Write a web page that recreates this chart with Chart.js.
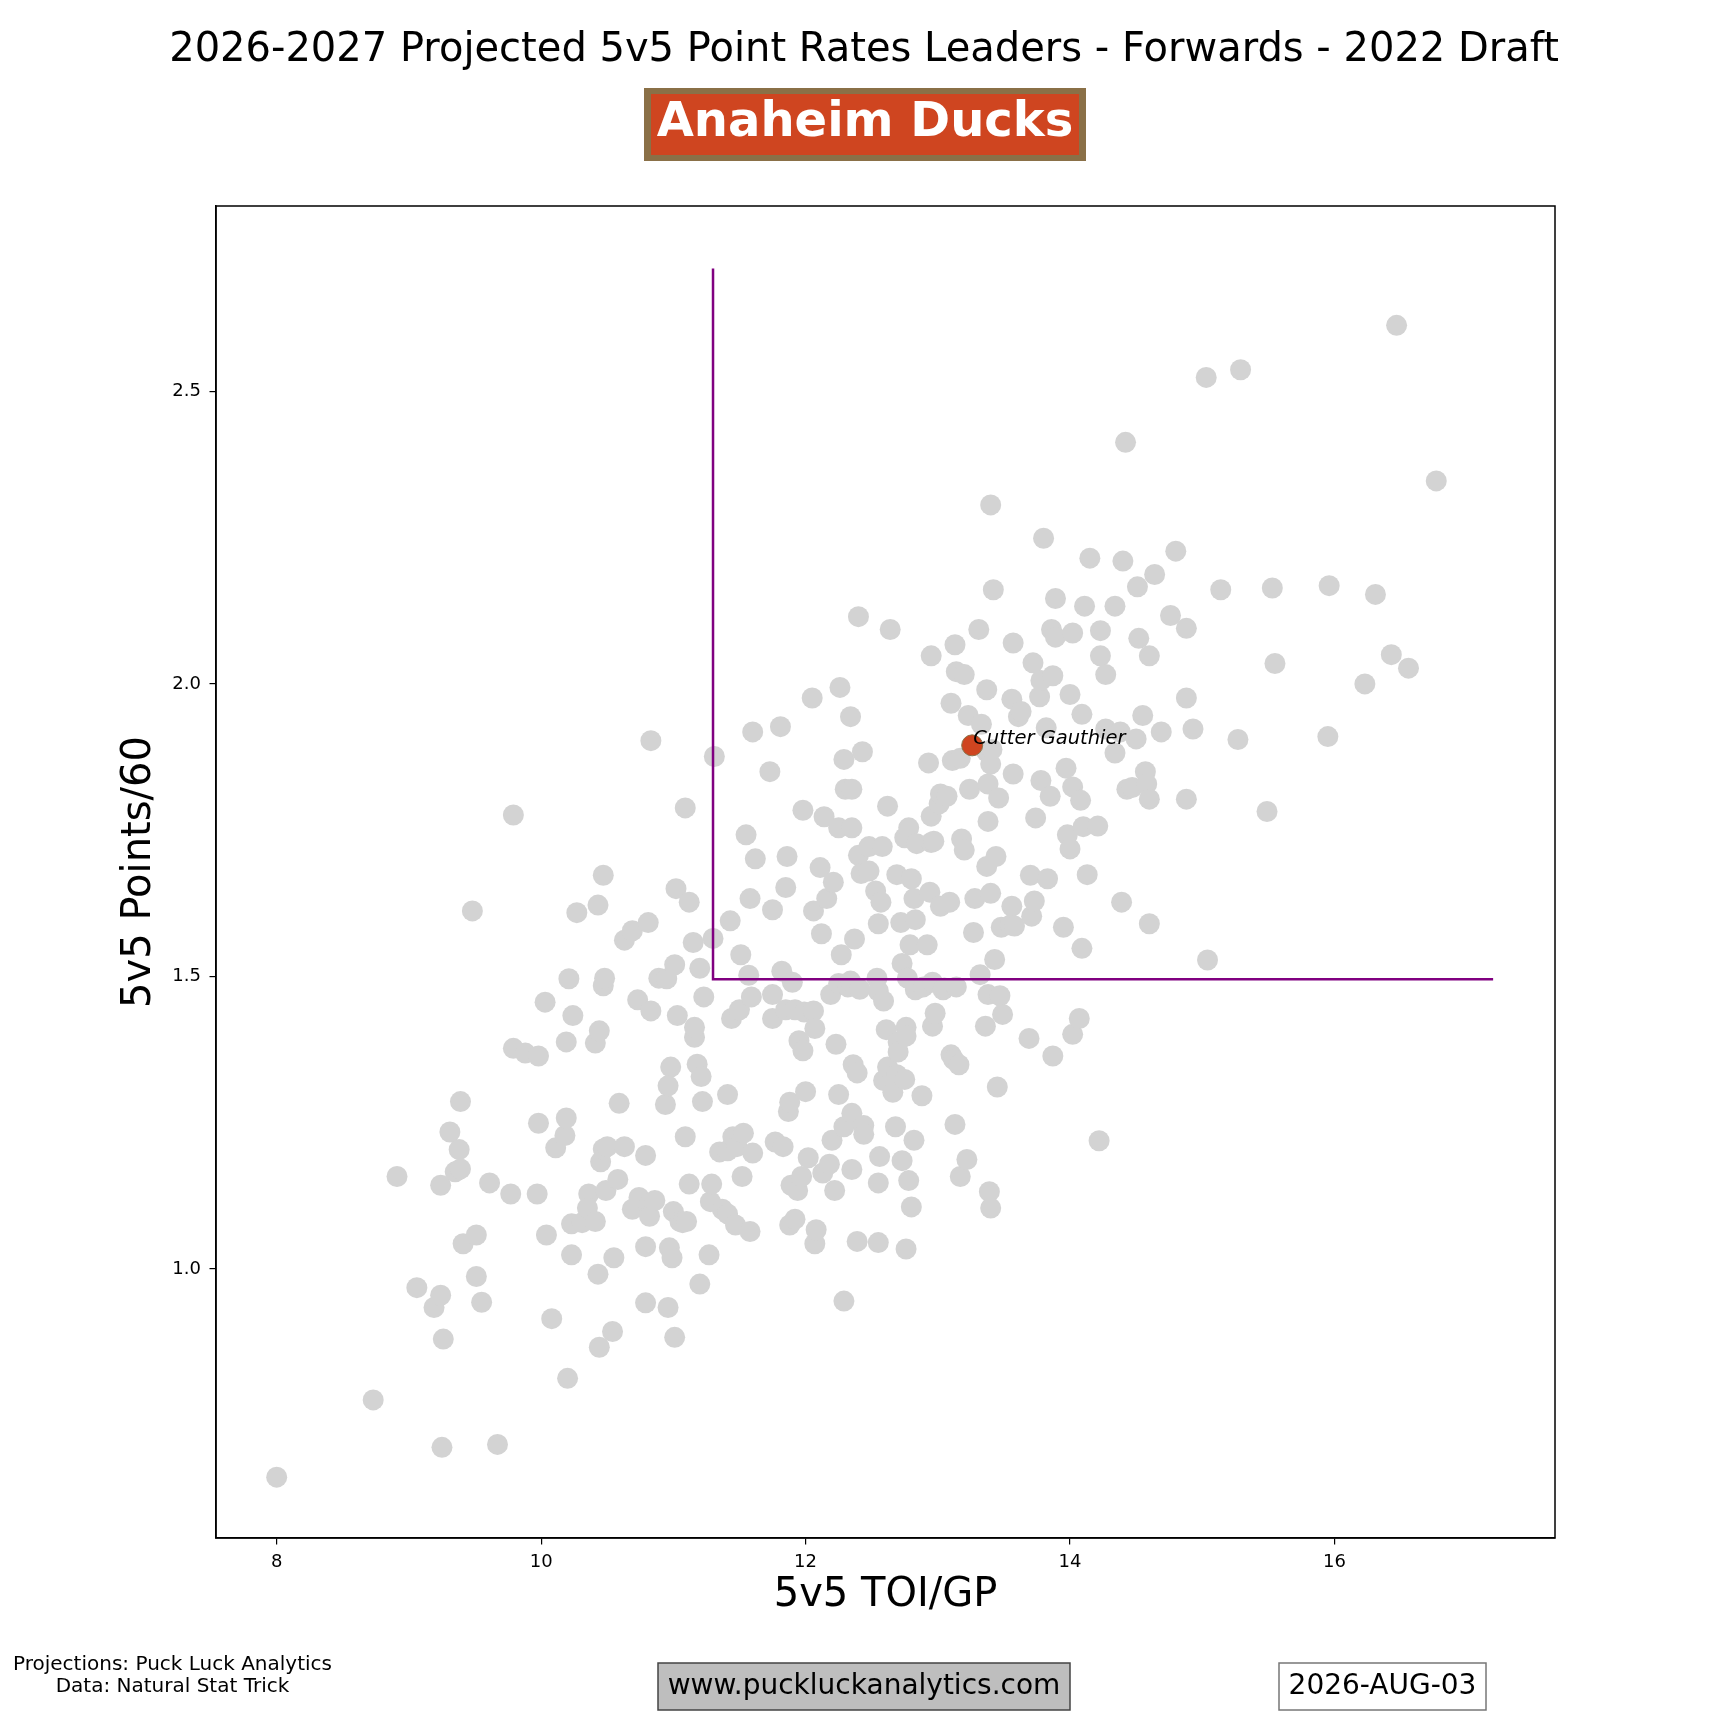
<!DOCTYPE html>
<html>
<head>
<meta charset="utf-8">
<script src="https://cdn.jsdelivr.net/npm/chart.js@4.4.1/dist/chart.umd.min.js"></script>
<style>
  html, body { margin: 0; padding: 0; background: #fff; }
  #wrap { width: 1728px; height: 1728px; }
</style>
</head>
<body>
<div id="wrap"><canvas id="chart" width="1728" height="1728"></canvas></div>
<script>
// ---- DATA ----
const titleText = '2026-2027 Projected 5v5 Point Rates Leaders - Forwards - 2022 Draft';
const teamName = 'Anaheim Ducks';
const xLabel = '5v5 TOI/GP';
const yLabel = '5v5 Points/60';
const xTicks = [8, 10, 12, 14, 16];
const yTicks = [1.0, 1.5, 2.0, 2.5];

// league forwards: 5v5 TOI per game
const toiGp = [
  8.0, 8.73, 9.25, 9.67, 8.91, 9.06, 9.19, 9.24, 9.26, 9.24,
  9.31, 9.35, 9.39, 9.38, 9.39, 9.41, 9.51, 9.51, 9.55, 9.48,
  9.61, 9.77, 9.79, 9.79, 9.88, 9.98, 9.97, 9.98, 10.03, 10.04,
  10.08, 10.11, 10.18, 10.19, 10.19, 10.21, 10.20, 10.23, 10.23, 10.24,
  10.27, 10.31, 10.36, 10.35, 10.41, 10.41, 10.43, 10.43, 10.44, 10.44,
  10.45, 10.47, 10.47, 10.48, 10.47, 10.49, 10.50, 10.54, 10.55, 10.58,
  10.59, 10.63, 10.63, 10.69, 10.69, 10.73, 10.74, 10.79, 10.79, 10.79,
  10.81, 10.81, 10.83, 10.82, 10.83, 10.86, 10.89, 10.94, 10.95, 10.96,
  10.98, 10.96, 10.97, 10.99, 11.00, 11.01, 11.01, 11.02, 11.03, 11.05,
  11.07, 11.09, 11.09, 11.10, 11.12, 11.12, 11.15, 11.16, 11.16, 11.18,
  11.20, 11.20, 11.21, 11.22, 11.23, 11.27, 11.28, 11.29, 11.30, 11.31,
  11.35, 11.37, 11.41, 11.41, 11.41, 11.43, 11.45, 11.44, 11.47, 11.48,
  11.50, 11.51, 11.53, 11.52, 11.55, 11.57, 11.58, 11.58, 11.59, 11.60,
  11.60, 11.62, 11.73, 11.75, 11.75, 11.75, 11.77, 11.81, 11.83, 11.82,
  11.85, 11.85, 11.86, 11.87, 11.88, 11.88, 11.89, 11.90, 11.92, 11.92,
  11.94, 11.95, 11.97, 11.98, 11.98, 11.99, 12.0, 12.02, 12.05, 12.06,
  12.06, 12.07, 12.07, 12.08, 12.11, 12.12, 12.13, 12.14, 12.16, 12.18,
  12.19, 12.20, 12.21, 12.22, 12.23, 12.25, 12.25, 12.25, 12.26, 12.27,
  12.29, 12.29, 12.29, 12.30, 12.32, 12.34, 12.34, 12.35, 12.35, 12.35,
  12.35, 12.36, 12.37, 12.39, 12.39, 12.40, 12.40, 12.41, 12.42, 12.43,
  12.44, 12.44, 12.48, 12.48, 12.53, 12.54, 12.55, 12.55, 12.55, 12.55,
  12.56, 12.57, 12.58, 12.59, 12.59, 12.61, 12.62, 12.62, 12.64, 12.66,
  12.68, 12.69, 12.69, 12.70, 12.70, 12.72, 12.73, 12.73, 12.75, 12.75,
  12.76, 12.76, 12.76, 12.77, 12.78, 12.78, 12.79, 12.80, 12.80, 12.82,
  12.83, 12.82, 12.83, 12.84, 12.88, 12.89, 12.92, 12.93, 12.94, 12.95,
  12.95, 12.95, 12.96, 12.96, 12.97, 12.98, 13.01, 13.02, 13.02, 13.04,
  13.05, 13.07, 13.09, 13.10, 13.10, 13.11, 13.12, 13.13, 13.13, 13.14,
  13.14, 13.16, 13.17, 13.17, 13.18, 13.20, 13.20, 13.22, 13.24, 13.23,
  13.27, 13.28, 13.31, 13.32, 13.33, 13.36, 13.37, 13.37, 13.37, 13.38,
  13.38, 13.38, 13.39, 13.40, 13.40, 13.40, 13.40, 13.41, 13.42, 13.43,
  13.44, 13.45, 13.46, 13.48, 13.47, 13.49, 13.55, 13.56, 13.56, 13.57,
  13.57, 13.58, 13.61, 13.63, 13.69, 13.70, 13.71, 13.72, 13.73, 13.74,
  13.77, 13.78, 13.78, 13.80, 13.82, 13.83, 13.85, 13.86, 13.87, 13.87,
  13.89, 13.89, 13.95, 13.97, 13.98, 14.0, 14.0, 14.02, 14.02, 14.02,
  14.07, 14.08, 14.09, 14.09, 14.10, 14.11, 14.13, 14.15, 14.21, 14.22,
  14.23, 14.23, 14.27, 14.27, 14.34, 14.34, 14.38, 14.39, 14.40, 14.42,
  14.43, 14.47, 14.50, 14.51, 14.52, 14.55, 14.57, 14.58, 14.60, 14.60,
  14.60, 14.64, 14.69, 14.76, 14.80, 14.88, 14.88, 14.88, 14.93, 15.03,
  15.04, 15.14, 15.27, 15.29, 15.49, 15.53, 15.55, 15.95, 15.96, 16.23,
  16.31, 16.43, 16.47, 16.56, 16.77
];

// league forwards: 5v5 points per 60
const pts60 = [
  0.644, 0.776, 0.695, 0.70, 1.158, 0.968, 0.934, 0.955, 0.88, 1.143,
  1.234, 1.166, 1.171, 1.204, 1.286, 1.043, 0.987, 1.058, 0.943, 1.612,
  1.147, 1.128, 1.776, 1.377, 1.369, 1.364, 1.128, 1.249, 1.456, 1.058,
  0.915, 1.207, 1.228, 1.258, 1.388, 1.496, 0.813, 1.077, 1.024, 1.433,
  1.609, 1.079, 1.128, 1.104, 1.081, 1.386, 1.622, 0.991, 0.866, 1.407,
  1.183, 1.205, 1.484, 1.497, 1.673, 1.134, 1.209, 0.893, 1.019, 1.153,
  1.283, 1.209, 1.562, 1.102, 1.578, 1.460, 1.122, 1.038, 1.194, 0.942,
  1.592, 1.109, 1.903, 1.09, 1.441, 1.117, 1.497, 1.281, 1.496, 0.934,
  1.345, 1.313, 1.036, 1.019, 1.098, 0.883, 1.52, 1.65, 1.433, 1.081,
  1.079, 1.226, 1.788, 1.081, 1.145, 1.627, 1.558, 1.396, 1.413, 1.350,
  0.974, 1.514, 1.329, 1.286, 1.465, 1.024, 1.115, 1.145, 1.565, 1.876,
  1.2, 1.102, 1.094, 1.202, 1.298, 1.595, 1.226, 1.428, 1.075, 1.209,
  1.443, 1.537, 1.232, 1.158, 1.742, 1.502, 1.633, 1.064, 1.465, 1.918,
  1.198, 1.701, 1.85, 1.428, 1.469, 1.614, 1.217, 1.927, 1.209, 1.509,
  1.443, 1.652, 1.705, 1.269, 1.285, 1.075, 1.143, 1.49, 1.085, 1.443,
  1.134, 1.39, 1.158, 1.784, 1.373, 1.439, 1.303, 1.19, 1.976, 1.441,
  1.612, 1.411, 1.043, 1.067, 1.686, 1.573, 1.164, 1.773, 1.633, 1.179,
  1.469, 1.22, 1.661, 1.134, 1.384, 1.754, 1.298, 1.488, 1.994, 1.537,
  0.945, 1.243, 1.871, 1.82, 1.482, 1.944, 1.492, 1.266, 1.82, 1.754,
  1.17, 1.349, 1.564, 1.047, 1.335, 1.707, 2.115, 1.478, 1.676, 1.884,
  1.245, 1.23, 1.722, 1.68, 1.646, 1.497, 1.59, 1.045, 1.147, 1.475,
  1.192, 1.627, 1.722, 1.458, 1.322, 1.409, 1.345, 1.791, 2.093, 1.302,
  1.243, 1.332, 1.674, 1.388, 1.371, 1.592, 1.522, 1.185, 1.737, 1.324,
  1.034, 1.413, 1.398, 1.497, 1.151, 1.754, 1.554, 1.667, 1.106, 1.22,
  1.477, 1.633, 1.597, 1.727, 1.296, 1.482, 1.554, 1.865, 1.644, 1.729,
  1.774, 2.048, 1.415, 1.49, 1.731, 1.437, 1.795, 1.62, 1.812, 1.477,
  1.48, 1.808, 1.627, 1.366, 1.967, 1.869, 1.358, 1.247, 2.067, 2.021,
  1.482, 1.349, 1.873, 1.158, 1.735, 1.716, 2.016, 1.187, 1.82, 1.946,
  1.575, 1.633, 2.093, 1.503, 1.931, 1.415, 1.884, 1.99, 1.688, 1.765,
  1.469, 1.829, 1.132, 1.104, 1.863, 1.642, 2.306, 1.888, 2.161, 1.529,
  1.705, 1.311, 1.805, 1.584, 1.467, 1.435, 1.588, 1.62, 1.974, 1.846,
  2.07, 1.586, 1.944, 1.953, 1.394, 1.673, 1.603, 2.036, 1.629, 1.771,
  1.978, 1.835, 2.006, 2.249, 1.925, 1.667, 1.808, 2.093, 1.364, 2.014,
  2.08, 2.146, 1.584, 1.856, 1.742, 1.718, 1.982, 2.087, 1.401, 1.824,
  1.428, 1.801, 1.948, 1.548, 1.756, 2.133, 1.674, 2.215, 1.757, 1.219,
  2.091, 2.048, 1.923, 2.016, 2.133, 1.882, 1.918, 1.627, 2.21, 2.413,
  1.82, 1.823, 1.906, 2.166, 2.078, 1.946, 1.85, 1.829, 2.048, 1.803,
  1.59, 2.187, 1.918, 2.117, 2.227, 2.095, 1.976, 1.803, 1.923, 2.524,
  1.528, 2.161, 1.905, 2.537, 1.782, 2.164, 2.035, 1.91, 2.168, 2.0,
  2.153, 2.05, 2.613, 2.027, 2.347
];

// team player(s) highlighted
const teamPlayers = ['Cutter Gauthier'];
const teamToi = [13.26];
const teamPts = [1.895];

// leader threshold lines (purple)
const refLineX = [11.3, 11.3, 17.2];
const refLineY = [2.71, 1.495, 1.495];

// ---- COLOURS / FONTS ----
const GRAY = '#d3d3d3';
const ORANGE = '#cf4520';
const BRONZE = '#8a7047';
const PURPLE = '#800080';
const FONT = '"DejaVu Sans", Verdana, sans-serif';

// ---- DECORATIONS (titles, badge, footer) ----
const decoPlugin = {
  id: 'deco',
  beforeDraw(chart) {
    const ctx = chart.ctx;
    ctx.save();
    ctx.fillStyle = '#fff';
    ctx.fillRect(0, 0, chart.width, chart.height);
    ctx.restore();
  },
  afterDatasetsDraw(chart) {
    // name labels next to team players
    const ctx = chart.ctx;
    const xs = chart.scales.x, ys = chart.scales.y;
    ctx.save();
    ctx.fillStyle = '#000';
    ctx.font = 'italic 19.5px ' + FONT;
    ctx.textAlign = 'left';
    ctx.textBaseline = 'middle';
    teamPlayers.forEach((name, i) => {
      const px = xs.getPixelForValue(teamToi[i]);
      const py = ys.getPixelForValue(teamPts[i]);
      ctx.fillText(name, px + 1, py - 6);
    });
    ctx.restore();
  },
  afterDraw(chart) {
    const ctx = chart.ctx;
    const a = chart.chartArea;
    ctx.save();

    // frame on top / right
    ctx.strokeStyle = '#000';
    ctx.lineWidth = 1.5;
    ctx.strokeRect(a.left, a.top, a.right - a.left, a.bottom - a.top);

    // main title
    ctx.fillStyle = '#000';
    ctx.textAlign = 'center';
    ctx.textBaseline = 'middle';
    ctx.font = '40px ' + FONT;
    ctx.fillText(titleText, 864, 51);

    // team badge
    ctx.fillStyle = BRONZE;
    ctx.fillRect(644, 88, 442, 73);
    ctx.fillStyle = ORANGE;
    ctx.fillRect(651, 94, 428, 61);
    ctx.fillStyle = '#fff';
    ctx.font = 'bold 48px ' + FONT;
    ctx.fillText(teamName, 865, 124);

    // axis titles
    ctx.fillStyle = '#000';
    ctx.font = '40px ' + FONT;
    ctx.fillText(xLabel, (a.left + a.right) / 2, 1596);
    ctx.save();
    ctx.translate(140, (a.top + a.bottom) / 2);
    ctx.rotate(-Math.PI / 2);
    ctx.fillText(yLabel, 0, 0);
    ctx.restore();

    // footer: sources
    ctx.font = '20px ' + FONT;
    ctx.fillText('Projections: Puck Luck Analytics', 172.5, 1665);
    ctx.fillText('Data: Natural Stat Trick', 172.5, 1687);

    // footer: website box
    ctx.fillStyle = '#bebebe';
    ctx.fillRect(658, 1663, 412, 47);
    ctx.strokeStyle = '#444';
    ctx.lineWidth = 1.5;
    ctx.strokeRect(658, 1663, 412, 47);
    ctx.fillStyle = '#000';
    ctx.font = '28px ' + FONT;
    ctx.fillText('www.puckluckanalytics.com', 864, 1687);

    // footer: date box
    ctx.fillStyle = '#fff';
    ctx.fillRect(1279, 1663, 207, 47);
    ctx.strokeStyle = '#777';
    ctx.strokeRect(1279, 1663, 207, 47);
    ctx.fillStyle = '#000';
    ctx.fillText('2026-AUG-03', 1382.5, 1687);

    ctx.restore();
  }
};

// ---- BUILD DATASETS ----
const leaguePoints = toiGp.map((x, i) => ({ x: x, y: pts60[i] }));
const teamPoints = teamToi.map((x, i) => ({ x: x, y: teamPts[i] }));
const refLine = refLineX.map((x, i) => ({ x: x, y: refLineY[i] }));

const tickFont = { family: FONT, size: 18 };

new Chart(document.getElementById('chart'), {
  type: 'scatter',
  data: {
    datasets: [
      {
        label: 'Team',
        data: teamPoints,
        backgroundColor: ORANGE,
        borderColor: BRONZE,
        borderWidth: 1,
        pointRadius: 10.5,
        order: 0
      },
      {
        label: 'Threshold',
        data: refLine,
        showLine: true,
        borderColor: PURPLE,
        borderWidth: 2.5,
        pointRadius: 0,
        fill: false,
        order: 1
      },
      {
        label: 'League',
        data: leaguePoints,
        backgroundColor: GRAY,
        borderWidth: 0,
        pointRadius: 10.5,
        order: 2
      }
    ]
  },
  options: {
    responsive: false,
    devicePixelRatio: 1,
    animation: false,
    layout: { padding: { top: 206, right: 173, bottom: 0, left: 0 } },
    plugins: {
      legend: { display: false },
      tooltip: { enabled: false },
      title: { display: false }
    },
    scales: {
      x: {
        type: 'linear',
        min: 7.541,
        max: 17.668,
        afterBuildTicks: s => { s.ticks = xTicks.map(v => ({ value: v })); },
        afterFit: s => { s.height = 190; },
        ticks: { color: '#000', font: tickFont, padding: 7, maxRotation: 0 },
        grid: { drawOnChartArea: false, drawTicks: true, tickLength: 6.5, color: '#000', lineWidth: 1.2 },
        border: { display: true, color: '#000', width: 1.5 }
      },
      y: {
        type: 'linear',
        min: 0.540,
        max: 2.817,
        afterBuildTicks: s => { s.ticks = yTicks.map(v => ({ value: v })); },
        afterFit: s => { s.width = 216; },
        ticks: { color: '#000', font: tickFont, padding: 8.5, callback: v => v.toFixed(1) },
        grid: { drawOnChartArea: false, drawTicks: true, tickLength: 6.5, color: '#000', lineWidth: 1.2 },
        border: { display: true, color: '#000', width: 1.5 }
      }
    }
  },
  plugins: [decoPlugin]
});
</script>
</body>
</html>
